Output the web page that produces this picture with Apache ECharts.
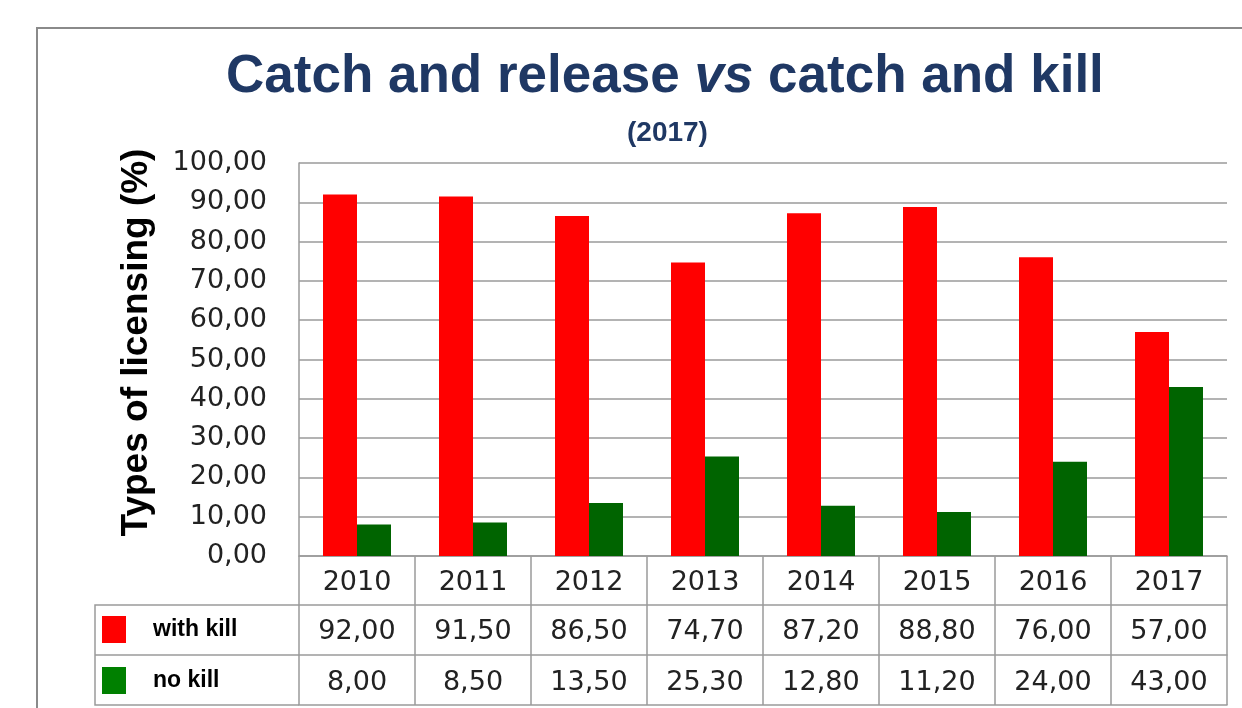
<!DOCTYPE html>
<html>
<head>
<meta charset="utf-8">
<script src="https://cdn.jsdelivr.net/npm/echarts@6/dist/echarts.min.js"></script>
<style>
html,body{margin:0;padding:0;background:#fff;}
#main{width:1242px;height:708px;}
</style>
</head>
<body>
<div id="main"></div>
<script>
const years = ['2010','2011','2012','2013','2014','2015','2016','2017'];
const withKill = [92.00, 91.50, 86.50, 74.70, 87.20, 88.80, 76.00, 57.00];
const noKill = [8.00, 8.50, 13.50, 25.30, 12.80, 11.20, 24.00, 43.00];
const seriesNames = ['with kill', 'no kill'];

const G = {left: 299, top: 163, width: 928, height: 393};
const ROWS = [49, 99, 149];
const LEGEND_LEFT = 95;
const gridBottom = G.top + G.height;
const fmt = v => Number(v).toFixed(2).replace('.', ',');
const numFont = 'DejaVu Sans';
const txtCol = '#222222';
const lineCol = '#9a9a9a';

const chart = echarts.init(document.getElementById('main'));

function tableAxis(offset, labels, margin, extra) {
  return Object.assign({
    type: 'category',
    data: years,
    position: 'bottom',
    offset: offset,
    gridIndex: 0,
    axisLine: {show: true, lineStyle: {color: lineCol, width: 1.5}},
    axisTick: {show: false},
    axisLabel: {
      show: !!labels,
      interval: 0,
      margin: margin,
      fontFamily: numFont,
      fontSize: 27,
      color: txtCol,
      formatter: (v, i) => labels ? labels(v, i) : ''
    },
    splitLine: {show: false}
  }, extra || {});
}

const option = {
  animation: false,
  backgroundColor: '#fff',
  title: [
    {
      text: '{a|Catch and release }{b|vs}{a| catch and kill}',
      left: 226,
      top: 51,
      padding: 0,
      textStyle: {
        rich: {
          a: {fontFamily: 'Liberation Sans', fontSize: 53, fontWeight: 'bold', color: '#1F3864'},
          b: {fontFamily: 'Liberation Sans', fontSize: 53, fontWeight: 'bold', fontStyle: 'italic', color: '#1F3864'}
        }
      }
    },
    {
      text: '(2017)',
      left: 627,
      top: 119,
      padding: 0,
      textStyle: {fontFamily: 'Liberation Sans', fontSize: 28, fontWeight: 'bold', color: '#1F3864'}
    }
  ],
  legend: {
    orient: 'vertical',
    left: 102,
    top: 616,
    padding: 0,
    itemWidth: 24,
    itemHeight: 27,
    itemGap: 24,
    icon: 'rect',
    selectedMode: false,
    data: [
      {name: seriesNames[0], itemStyle: {color: '#FF0000'}},
      {name: seriesNames[1], itemStyle: {color: '#008000'}}
    ],
    textStyle: {fontFamily: 'Liberation Sans', fontSize: 23, fontWeight: 'bold', color: '#000', padding: [0, 0, 0, 22]}
  },
  grid: {left: G.left, top: G.top, width: G.width, height: G.height, containLabel: false},
  xAxis: [
    tableAxis(0, (v) => v, 13, {
      axisTick: {show: true, interval: 0, length: ROWS[2], lineStyle: {color: lineCol, width: 1.5}}
    }),
    tableAxis(ROWS[0], (v, i) => fmt(withKill[i]), 13),
    tableAxis(ROWS[1], (v, i) => fmt(noKill[i]), 14),
    tableAxis(ROWS[2], null, 8)
  ],
  yAxis: {
    type: 'value',
    min: 0,
    max: 100,
    interval: 10,
    name: 'Types of licensing (%)',
    nameLocation: 'middle',
    nameRotate: 90,
    nameGap: 144,
    nameTextStyle: {fontFamily: 'Liberation Sans', fontSize: 37, fontWeight: 'bold', color: '#000', padding: [0, 0, 0, 34]},
    axisLine: {show: true, lineStyle: {color: lineCol, width: 1.5}},
    axisTick: {show: false},
    axisLabel: {margin: 32, fontFamily: numFont, fontSize: 27, color: txtCol, formatter: v => fmt(v)},
    splitLine: {show: true, lineStyle: {color: lineCol, width: 1.5}}
  },
  series: [
    {name: seriesNames[0], type: 'bar', xAxisIndex: 0, data: withKill, barWidth: 34, barGap: '0%', itemStyle: {color: '#FF0000'}},
    {name: seriesNames[1], type: 'bar', xAxisIndex: 0, data: noKill, barWidth: 34, barGap: '0%', itemStyle: {color: '#006400'}}
  ],
  graphic: [
    {type: 'rect', shape: {x: 37, y: 28, width: 1400, height: 900}, style: {fill: 'none', stroke: '#8a8a8a', lineWidth: 2}, silent: true},
    {type: 'polyline', shape: {points: [[G.left, gridBottom + ROWS[0]], [LEGEND_LEFT, gridBottom + ROWS[0]], [LEGEND_LEFT, gridBottom + ROWS[2]], [G.left, gridBottom + ROWS[2]]]}, style: {fill: 'none', stroke: lineCol, lineWidth: 1.5}, silent: true},
    {type: 'line', shape: {x1: LEGEND_LEFT, y1: gridBottom + ROWS[1], x2: G.left, y2: gridBottom + ROWS[1]}, style: {stroke: lineCol, lineWidth: 1.5}, silent: true}
  ]
};
chart.setOption(option);
</script>
</body>
</html>
